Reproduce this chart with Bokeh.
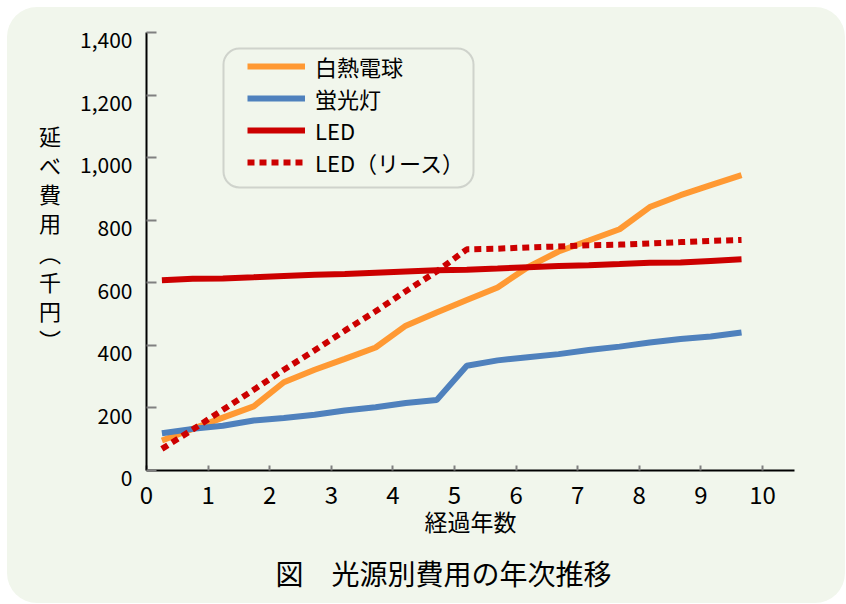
from bokeh.plotting import figure
from bokeh.models import (Range1d, FixedTicker, Legend, LegendItem, BoxAnnotation, Title)
from bokeh.embed import file_html
from bokeh.resources import INLINE

# ---- data ----
years = [0.25, 0.75, 1.24, 1.74, 2.23, 2.73, 3.22, 3.72, 4.21, 4.71,
         5.20, 5.70, 6.19, 6.69, 7.18, 7.68, 8.17, 8.67, 9.16, 9.66]
incandescent = [96, 133, 169, 205, 282, 322, 357, 393, 463, 505,
                545, 585, 650, 700, 735, 771, 842, 880, 912, 944]
fluorescent = [119, 133, 143, 160, 168, 178, 192, 202, 216, 225,
               335, 352, 362, 372, 385, 396, 409, 420, 428, 441]
led = [608, 613, 614, 618, 622, 626, 628, 632, 636, 640,
       642, 646, 650, 654, 656, 660, 664, 665, 670, 675]
led_lease = [69, 131, 194, 258, 322, 384, 447, 509, 573, 636,
             707, 709, 713, 716, 720, 722, 726, 730, 734, 737]

series_names = ["白熱電球", "蛍光灯", "LED", "LED（リース）"]
x_ticks = [0, 1, 2, 3, 4, 5, 6, 7, 8, 9, 10]
y_ticks = [0, 200, 400, 600, 800, 1000, 1200, 1400]
y_tick_labels = ["0", "200", "400", "600", "800", "1,000", "1,200", "1,400"]
x_title = "経過年数"
y_title = "延\nべ\n費\n用\n︵\n千\n円\n︶\n　"
chart_title = "図　光源別費用の年次推移"

# ---- style ----
FONT = "Noto Sans CJK JP"
BG = "#f1f6ec"
ORANGE = "#ff9933"
BLUE = "#4f81bd"
RED = "#cc0000"

X0, X1 = 0, 10.52
Y0, Y1 = 0, 1400
# page-pixel helpers for annotation placement (frame: x 146..794, y 32..470)
def dx(px):
    return X0 + (px - 146) * (X1 - X0) / 648.0
def dy(py):
    return (470 - py) * (Y1 - Y0) / 438.0

p = figure(width=838, height=596, output_backend="svg", toolbar_location=None,
           x_range=Range1d(X0, X1), y_range=Range1d(Y0, Y1),
           min_border_left=139, min_border_right=51,
           min_border_top=25, min_border_bottom=133)
p.margin = (7, 0, 0, 7)
p.background_fill_color = None
p.border_fill_color = None
p.outline_line_color = None
p.styles = {"background-color": BG, "border-radius": "30px"}
p.grid.visible = False

# axes
for ax in (p.xaxis[0], p.yaxis[0]):
    ax.axis_line_color = "black"
    ax.axis_line_width = 2
    ax.major_tick_line_color = "#808080"
    ax.major_tick_line_width = 2
    ax.minor_tick_line_color = None
    ax.major_tick_out = 0
    ax.major_label_text_font = FONT
    ax.major_label_text_color = "black"
    ax.axis_label_text_font = FONT
    ax.axis_label_text_color = "black"
    ax.axis_label_text_font_style = "normal"

p.xaxis.ticker = FixedTicker(ticks=x_ticks)
p.xaxis.major_tick_in = 5
p.xaxis.major_label_text_font_size = "24px"
p.xaxis.major_label_standoff = 15
p.xaxis.axis_label = x_title
p.xaxis.axis_label_text_font_size = "23px"
p.xaxis.axis_label_standoff = -3

p.yaxis.ticker = FixedTicker(ticks=y_ticks)
p.yaxis.major_tick_in = 10
p.yaxis.major_label_overrides = {v: "\n" + s for v, s in zip(y_ticks, y_tick_labels)}
p.yaxis.major_label_text_font_size = "21px"
p.yaxis.major_label_text_line_height = 0.45
p.yaxis.major_label_standoff = 14
p.yaxis.axis_label = y_title
p.yaxis.axis_label_orientation = "horizontal"
p.yaxis.axis_label_text_font_size = "22px"
p.yaxis.axis_label_text_line_height = 0.91
p.yaxis.axis_label_standoff = 16

# series
r1 = p.line(years, incandescent, line_color=ORANGE, line_width=6)
r2 = p.line(years, fluorescent, line_color=BLUE, line_width=6)
r3 = p.line(years, led, line_color=RED, line_width=6)
r4 = p.line(years, led_lease, line_color=RED, line_width=6, line_dash="7 5")

# legend frame
p.add_layout(BoxAnnotation(left=dx(223), right=dx(473), top=dy(48), bottom=dy(187),
                           fill_color=None, line_color="#808080", line_width=2,
                           border_radius=16))
legend = Legend(items=[LegendItem(label=n, renderers=[r]) for n, r in
                       zip(series_names, [r1, r2, r3, r4])],
                location=(101, 292), orientation="vertical",
                glyph_width=58, glyph_height=30, label_height=30,
                spacing=0, label_standoff=10, padding=0, margin=0,
                border_line_color=None, background_fill_alpha=0,
                label_text_font=FONT, label_text_font_size="22px",
                label_text_color="black")
p.add_layout(legend, "center")

# chart title below
t = Title(text=chart_title, align="left", offset=129, standoff=21,
          text_font=FONT, text_font_size="28px", text_font_style="normal",
          text_color="black")
p.add_layout(t, "below")

open("out.html", "w").write(file_html(p, INLINE))
